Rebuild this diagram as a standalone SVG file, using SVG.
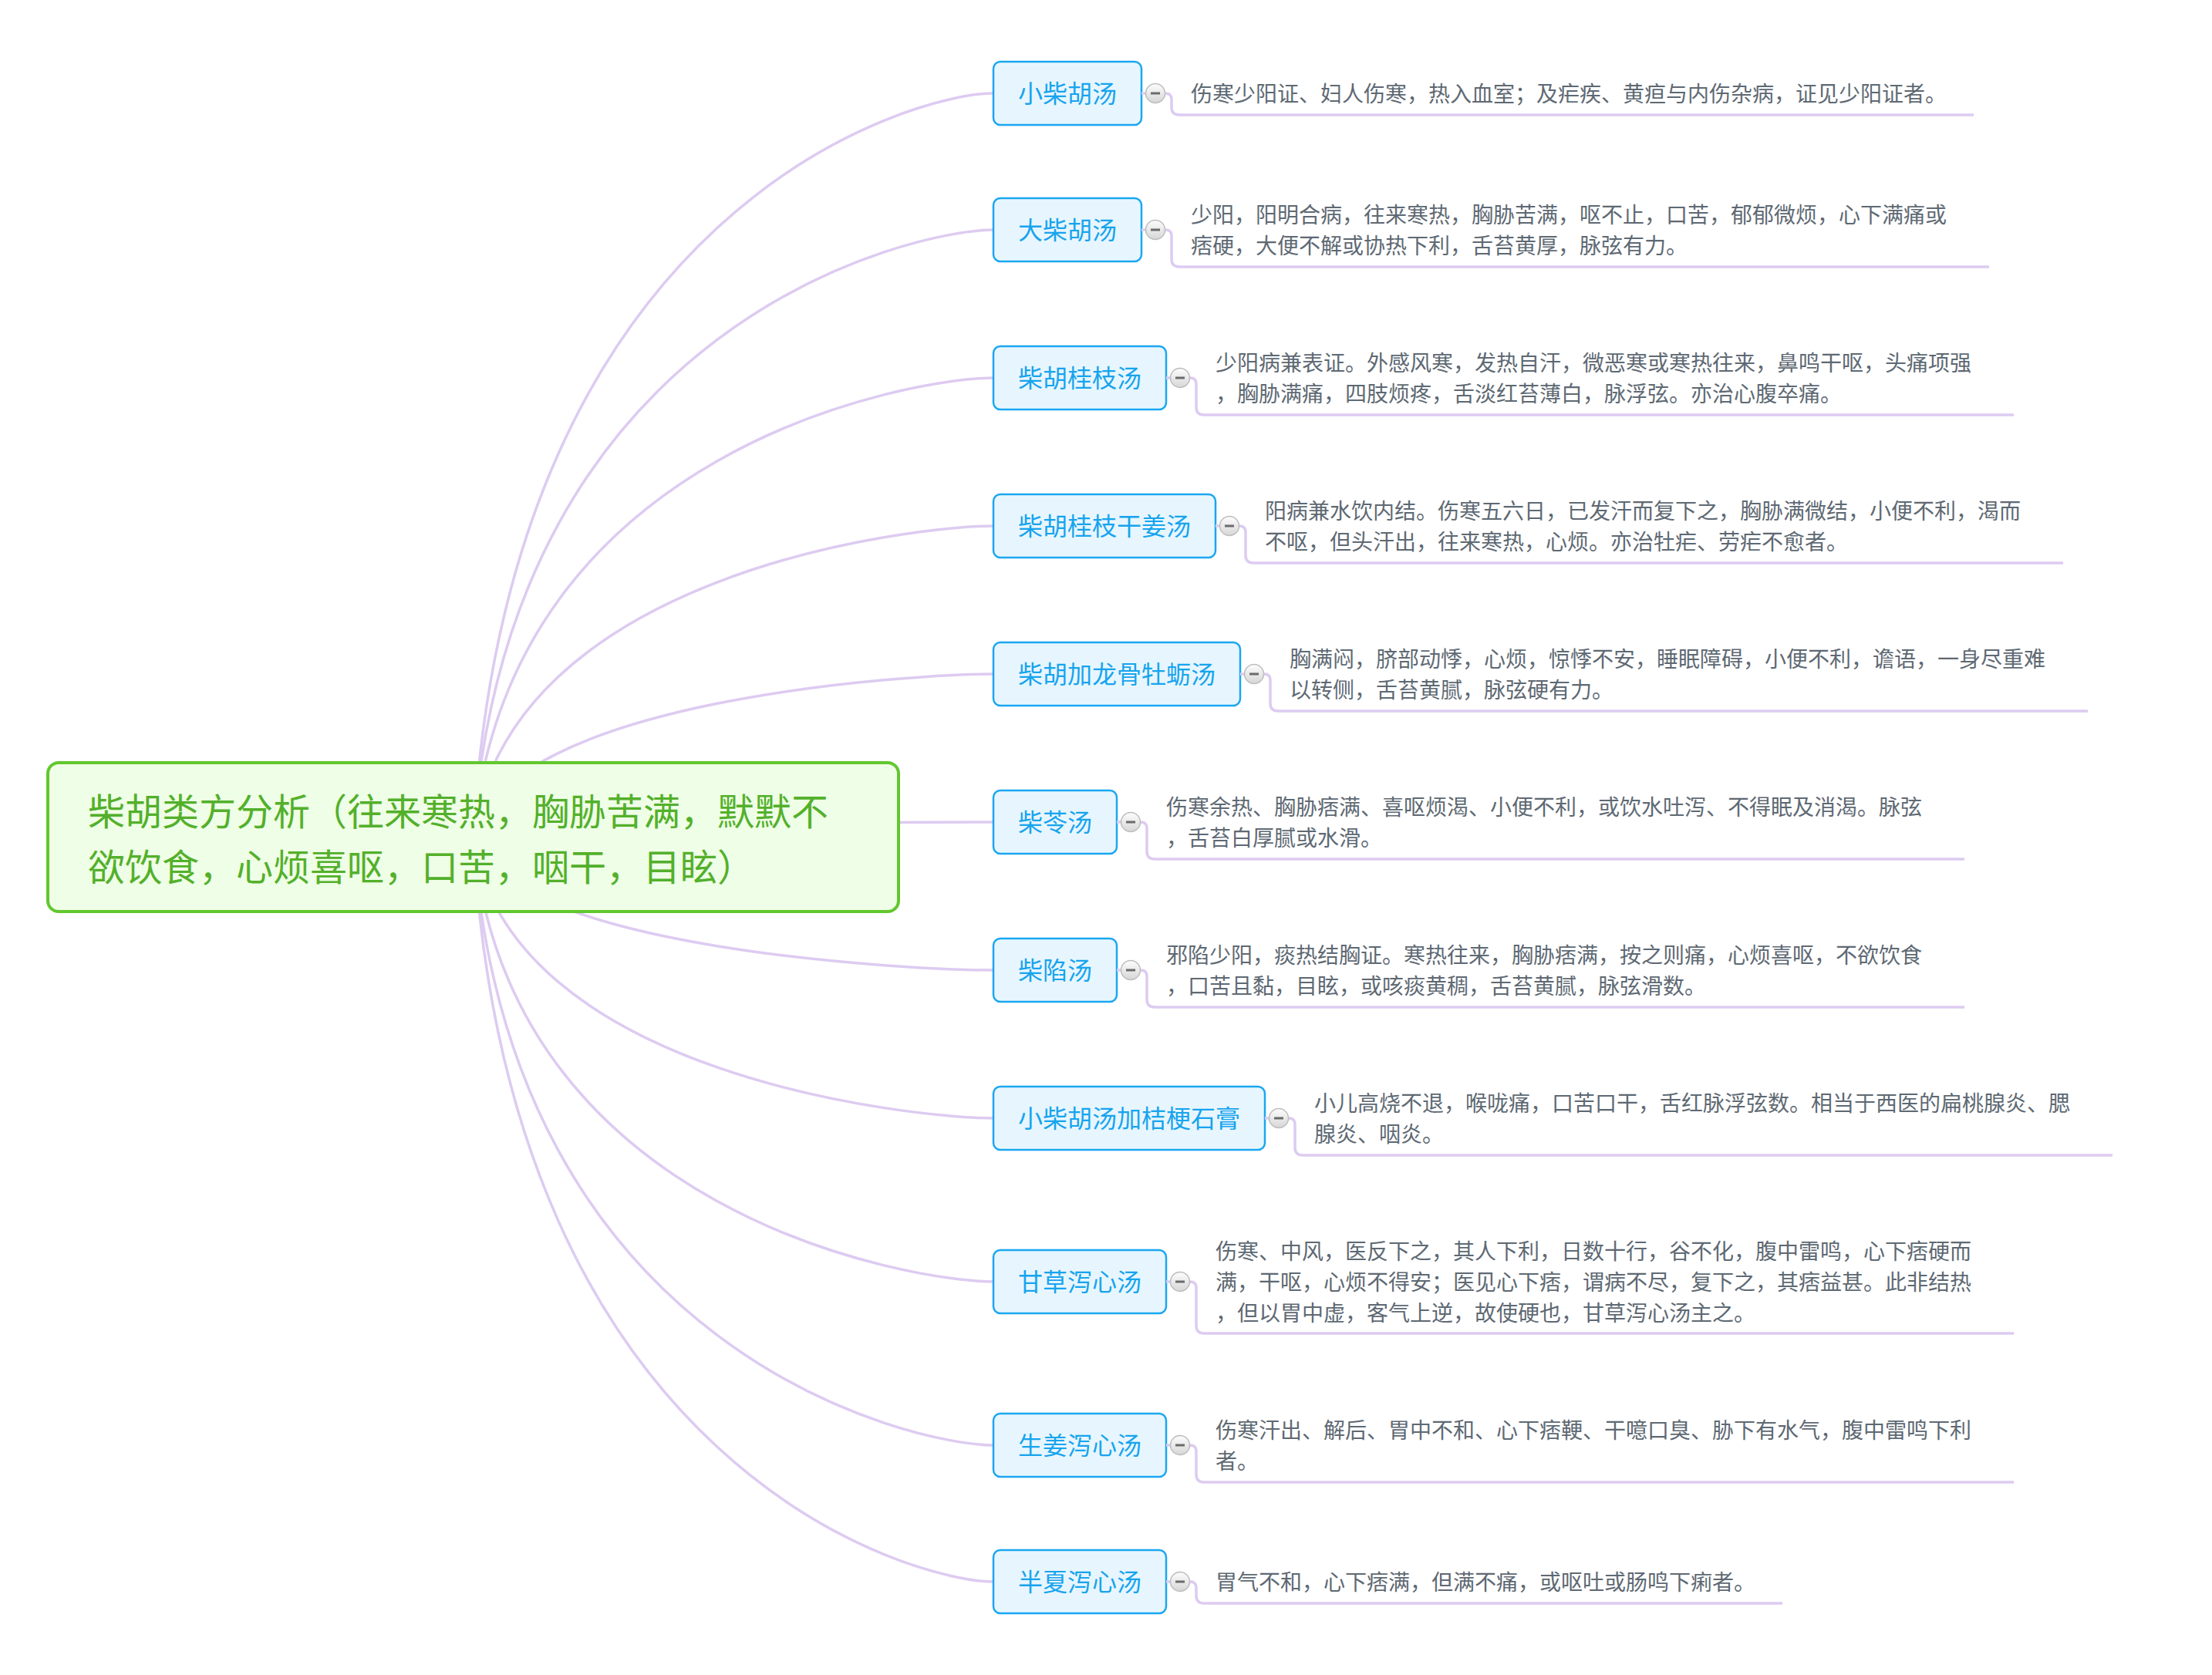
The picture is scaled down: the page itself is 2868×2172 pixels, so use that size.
<svg xmlns="http://www.w3.org/2000/svg" width="2868" height="2172" viewBox="0 0 2868 2172">
<defs>
<style>
.con{fill:none;stroke:#DDCBF1;stroke-width:3.5;stroke-linecap:round}
.ul{fill:none;stroke:#DDCBF1;stroke-width:3.5}
.box{fill:#E7F6FE;stroke:#1AA7F2;stroke-width:2.5}
.title{font-family:"Noto Sans CJK SC","Noto Sans",sans-serif;font-size:32px;fill:#17A4EE}
.desc{font-family:"Noto Sans CJK SC","Noto Sans",sans-serif;font-size:28px;fill:#5E6973}
.ctext{font-family:"Noto Sans CJK SC","Noto Sans",sans-serif;font-size:48px;fill:#53B02B}
.btn{fill:url(#bg);stroke:#BDBDBD;stroke-width:1.5}
.minus{fill:#6B6B6B}
</style>
<linearGradient id="bg" x1="0" y1="0" x2="0" y2="1">
<stop offset="0" stop-color="#FDFDFD"/>
<stop offset="1" stop-color="#D6D6D6"/>
</linearGradient>
</defs>
<rect width="2868" height="2172" fill="#FFFFFF"/>
<g id="connectors">
<path class="con" d="M613.5 1085.5 C658.5 265.7 1186.8 121 1288 121"/>
<path class="con" d="M613.5 1085.5 C658.5 416.1 1186.8 298 1288 298"/>
<path class="con" d="M613.5 1085.5 C658.5 579.3 1186.8 490 1288 490"/>
<path class="con" d="M613.5 1085.5 C658.5 742.5 1186.8 682 1288 682"/>
<path class="con" d="M613.5 1085.5 C658.5 905.7 1186.8 874 1288 874"/>
<path class="con" d="M613.5 1085.5 C658.5 1068.9 1186.8 1066 1288 1066"/>
<path class="con" d="M613.5 1085.5 C658.5 1232.1 1186.8 1258 1288 1258"/>
<path class="con" d="M613.5 1085.5 C658.5 1395.3 1186.8 1450 1288 1450"/>
<path class="con" d="M613.5 1085.5 C658.5 1575.5 1186.8 1662 1288 1662"/>
<path class="con" d="M613.5 1085.5 C658.5 1755.7 1186.8 1874 1288 1874"/>
<path class="con" d="M613.5 1085.5 C658.5 1906.2 1186.8 2051 1288 2051"/>
</g>
<g id="central">
<rect x="62" y="989" width="1103" height="193" rx="14" fill="#EFFEE6" stroke="#62C72E" stroke-width="4"/>
<text class="ctext" x="114" y="1070">柴胡类方分析（往来寒热，胸胁苦满，默默不</text>
<text class="ctext" x="114" y="1142">欲饮食，心烦喜呕，口苦，咽干，目眩）</text>
</g>
<g id="n1">
<rect class="box" x="1288" y="80" width="192" height="82" rx="9"/>
<text class="title" x="1320" y="133">小柴胡汤</text>
<path class="ul" d="M1480 121 H1486"/>
<path class="ul" d="M1510 121 H1511 Q1519 121 1519 129 V139 Q1519 149 1529 149 H2559"/>
<circle class="btn" cx="1498" cy="121" r="12.5"/><rect class="minus" x="1492" y="119.5" width="12" height="3"/>
<text class="desc" x="1544" y="132">伤寒少阳证、妇人伤寒，热入血室；及疟疾、黄疸与内伤杂病，证见少阳证者。</text>
</g>
<g id="n2">
<rect class="box" x="1288" y="257" width="192" height="82" rx="9"/>
<text class="title" x="1320" y="310">大柴胡汤</text>
<path class="ul" d="M1480 298 H1486"/>
<path class="ul" d="M1510 298 H1511 Q1519 298 1519 306 V336 Q1519 346 1529 346 H2579"/>
<circle class="btn" cx="1498" cy="298" r="12.5"/><rect class="minus" x="1492" y="296.5" width="12" height="3"/>
<text class="desc" x="1544" y="289">少阳，阳明合病，往来寒热，胸胁苦满，呕不止，口苦，郁郁微烦，心下满痛或</text>
<text class="desc" x="1544" y="329">痞硬，大便不解或协热下利，舌苔黄厚，脉弦有力。</text>
</g>
<g id="n3">
<rect class="box" x="1288" y="449" width="224" height="82" rx="9"/>
<text class="title" x="1320" y="502">柴胡桂枝汤</text>
<path class="ul" d="M1512 490 H1518"/>
<path class="ul" d="M1542 490 H1543 Q1551 490 1551 498 V528 Q1551 538 1561 538 H2611"/>
<circle class="btn" cx="1530" cy="490" r="12.5"/><rect class="minus" x="1524" y="488.5" width="12" height="3"/>
<text class="desc" x="1576" y="481">少阳病兼表证。外感风寒，发热自汗，微恶寒或寒热往来，鼻鸣干呕，头痛项强</text>
<text class="desc" x="1576" y="521">，胸胁满痛，四肢烦疼，舌淡红苔薄白，脉浮弦。亦治心腹卒痛。</text>
</g>
<g id="n4">
<rect class="box" x="1288" y="641" width="288" height="82" rx="9"/>
<text class="title" x="1320" y="694">柴胡桂枝干姜汤</text>
<path class="ul" d="M1576 682 H1582"/>
<path class="ul" d="M1606 682 H1607 Q1615 682 1615 690 V720 Q1615 730 1625 730 H2675"/>
<circle class="btn" cx="1594" cy="682" r="12.5"/><rect class="minus" x="1588" y="680.5" width="12" height="3"/>
<text class="desc" x="1640" y="673">阳病兼水饮内结。伤寒五六日，已发汗而复下之，胸胁满微结，小便不利，渴而</text>
<text class="desc" x="1640" y="713">不呕，但头汗出，往来寒热，心烦。亦治牡疟、劳疟不愈者。</text>
</g>
<g id="n5">
<rect class="box" x="1288" y="833" width="320" height="82" rx="9"/>
<text class="title" x="1320" y="886">柴胡加龙骨牡蛎汤</text>
<path class="ul" d="M1608 874 H1614"/>
<path class="ul" d="M1638 874 H1639 Q1647 874 1647 882 V912 Q1647 922 1657 922 H2707"/>
<circle class="btn" cx="1626" cy="874" r="12.5"/><rect class="minus" x="1620" y="872.5" width="12" height="3"/>
<text class="desc" x="1672" y="865">胸满闷，脐部动悸，心烦，惊悸不安，睡眠障碍，小便不利，谵语，一身尽重难</text>
<text class="desc" x="1672" y="905">以转侧，舌苔黄腻，脉弦硬有力。</text>
</g>
<g id="n6">
<rect class="box" x="1288" y="1025" width="160" height="82" rx="9"/>
<text class="title" x="1320" y="1078">柴苓汤</text>
<path class="ul" d="M1448 1066 H1454"/>
<path class="ul" d="M1478 1066 H1479 Q1487 1066 1487 1074 V1104 Q1487 1114 1497 1114 H2547"/>
<circle class="btn" cx="1466" cy="1066" r="12.5"/><rect class="minus" x="1460" y="1064.5" width="12" height="3"/>
<text class="desc" x="1512" y="1057">伤寒余热、胸胁痞满、喜呕烦渴、小便不利，或饮水吐泻、不得眠及消渴。脉弦</text>
<text class="desc" x="1512" y="1097">，舌苔白厚腻或水滑。</text>
</g>
<g id="n7">
<rect class="box" x="1288" y="1217" width="160" height="82" rx="9"/>
<text class="title" x="1320" y="1270">柴陷汤</text>
<path class="ul" d="M1448 1258 H1454"/>
<path class="ul" d="M1478 1258 H1479 Q1487 1258 1487 1266 V1296 Q1487 1306 1497 1306 H2547"/>
<circle class="btn" cx="1466" cy="1258" r="12.5"/><rect class="minus" x="1460" y="1256.5" width="12" height="3"/>
<text class="desc" x="1512" y="1249">邪陷少阳，痰热结胸证。寒热往来，胸胁痞满，按之则痛，心烦喜呕，不欲饮食</text>
<text class="desc" x="1512" y="1289">，口苦且黏，目眩，或咳痰黄稠，舌苔黄腻，脉弦滑数。</text>
</g>
<g id="n8">
<rect class="box" x="1288" y="1409" width="352" height="82" rx="9"/>
<text class="title" x="1320" y="1462">小柴胡汤加桔梗石膏</text>
<path class="ul" d="M1640 1450 H1646"/>
<path class="ul" d="M1670 1450 H1671 Q1679 1450 1679 1458 V1488 Q1679 1498 1689 1498 H2739"/>
<circle class="btn" cx="1658" cy="1450" r="12.5"/><rect class="minus" x="1652" y="1448.5" width="12" height="3"/>
<text class="desc" x="1704" y="1441">小儿高烧不退，喉咙痛，口苦口干，舌红脉浮弦数。相当于西医的扁桃腺炎、腮</text>
<text class="desc" x="1704" y="1481">腺炎、咽炎。</text>
</g>
<g id="n9">
<rect class="box" x="1288" y="1621" width="224" height="82" rx="9"/>
<text class="title" x="1320" y="1674">甘草泻心汤</text>
<path class="ul" d="M1512 1662 H1518"/>
<path class="ul" d="M1542 1662 H1543 Q1551 1662 1551 1670 V1719 Q1551 1729 1561 1729 H2611"/>
<circle class="btn" cx="1530" cy="1662" r="12.5"/><rect class="minus" x="1524" y="1660.5" width="12" height="3"/>
<text class="desc" x="1576" y="1633">伤寒、中风，医反下之，其人下利，日数十行，谷不化，腹中雷鸣，心下痞硬而</text>
<text class="desc" x="1576" y="1673">满，干呕，心烦不得安；医见心下痞，谓病不尽，复下之，其痞益甚。此非结热</text>
<text class="desc" x="1576" y="1713">，但以胃中虚，客气上逆，故使硬也，甘草泻心汤主之。</text>
</g>
<g id="n10">
<rect class="box" x="1288" y="1833" width="224" height="82" rx="9"/>
<text class="title" x="1320" y="1886">生姜泻心汤</text>
<path class="ul" d="M1512 1874 H1518"/>
<path class="ul" d="M1542 1874 H1543 Q1551 1874 1551 1882 V1912 Q1551 1922 1561 1922 H2611"/>
<circle class="btn" cx="1530" cy="1874" r="12.5"/><rect class="minus" x="1524" y="1872.5" width="12" height="3"/>
<text class="desc" x="1576" y="1865">伤寒汗出、解后、胃中不和、心下痞鞕、干噫口臭、胁下有水气，腹中雷鸣下利</text>
<text class="desc" x="1576" y="1905">者。</text>
</g>
<g id="n11">
<rect class="box" x="1288" y="2010" width="224" height="82" rx="9"/>
<text class="title" x="1320" y="2063">半夏泻心汤</text>
<path class="ul" d="M1512 2051 H1518"/>
<path class="ul" d="M1542 2051 H1543 Q1551 2051 1551 2059 V2069 Q1551 2079 1561 2079 H2311"/>
<circle class="btn" cx="1530" cy="2051" r="12.5"/><rect class="minus" x="1524" y="2049.5" width="12" height="3"/>
<text class="desc" x="1576" y="2062">胃气不和，心下痞满，但满不痛，或呕吐或肠鸣下痢者。</text>
</g>
</svg>
